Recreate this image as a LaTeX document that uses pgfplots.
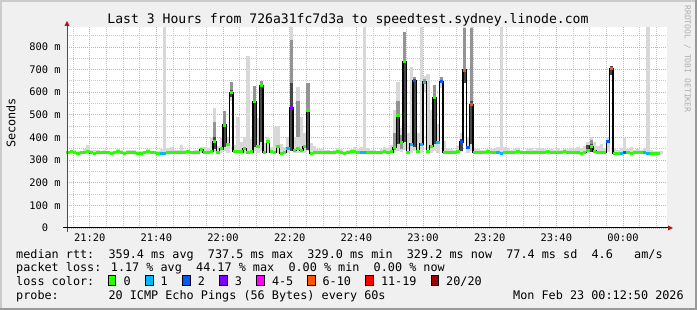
\documentclass[border=0pt]{standalone}
\usepackage{fontspec}
\setmainfont{DejaVu Sans Mono}
\usepackage{pgfplots}
\usepackage{pgfplotstable}
\pgfplotsset{compat=1.18}
\definecolor{c0}{HTML}{26FF00}
\definecolor{c1}{HTML}{00B8FF}
\definecolor{c2}{HTML}{0059FF}
\definecolor{c3}{HTML}{7E00FF}
\definecolor{c4}{HTML}{FF00FF}
\definecolor{c5}{HTML}{FF5500}
\definecolor{c6}{HTML}{FF0000}
\definecolor{c7}{HTML}{A10000}
\definecolor{smokeL}{HTML}{D8D8D8}
\definecolor{smokeM}{HTML}{949494}
\definecolor{smokeD}{HTML}{474747}
\definecolor{bgc}{HTML}{F0F0F0}
\definecolor{shadeA}{HTML}{CBCBCB}
\definecolor{shadeB}{HTML}{999999}
\definecolor{mgrid}{HTML}{F0A0A0}
\definecolor{ngrid}{HTML}{C8C8C8}
\definecolor{arrowc}{HTML}{B01818}
\definecolor{wm}{HTML}{B0B0B0}

\pgfplotstableread{
m med c lo hi
13 334 0 328 342
14 336 0 330 346
15 333 0 328 343
16 331 0 327 340
17 334 0 329 342
18 333 0 328 348
19 336 0 330 367
20 332 0 327 346
21 331 0 327 345
22 334 0 329 343
23 332 0 327 340
24 335 0 330 343
25 333 0 328 341
26 331 0 327 339
27 334 0 329 342
28 336 0 330 350
29 333 0 328 346
30 330 0 326 340
31 333 0 328 345
32 335 0 330 343
33 334 0 329 346
34 331 0 327 340
35 330 0 326 338
36 334 0 329 342
37 337 0 331 347
38 333 0 328 341
39 332 0 327 340
40 331 0 327 339
41 331 1 327 350
42 331 1 327 890
43 333 0 328 352
44 334 0 329 356
45 334 0 329 345
46 335 0 330 345
47 333 0 328 366
48 334 0 329 346
49 336 0 330 344
50 333 0 328 341
51 334 0 329 345
52 335 0 330 346
53 345 0 333 356
54 334 0 329 358
55 334 0 329 352
56 338 0 331 404
57 381 0 335 529
58 333 0 328 362
59 349 0 332 404
60 455 0 338 517
61 367 0 333 400
62 598 0 560 647
63 337 0 330 365
64 338 0 330 492
65 336 0 330 380
66 349 0 332 400
67 333 0 328 760
68 336 0 330 395
69 558 0 340 628
70 362 0 333 485
71 628 0 340 650
72 335 0 329 375
73 380 0 332 400
74 336 0 330 360
75 333 0 328 448
76 362 0 333 452
77 331 0 327 370
78 333 0 328 360
79 352 1 333 400
80 533 3 340 890
81 343 0 330 400
82 352 0 332 622
83 343 0 330 492
84 358 0 333 420
85 521 0 340 642
86 331 0 327 375
87 332 0 327 362
88 334 0 329 350
89 334 0 329 348
90 335 0 330 345
91 333 0 328 346
92 332 0 327 340
93 334 0 329 345
94 336 0 330 352
95 333 0 328 347
96 331 0 327 341
97 334 0 329 344
98 337 0 331 350
99 336 0 330 356
100 333 0 328 347
101 335 1 329 360
102 333 1 328 890
103 334 0 329 352
104 332 0 327 343
105 334 0 329 345
106 333 0 328 341
107 335 0 330 350
108 337 0 331 356
109 334 0 329 352
110 336 0 330 365
111 355 0 333 520
112 496 0 338 647
113 379 0 334 440
114 735 0 345 868
115 335 0 330 420
116 371 1 333 713
117 650 2 340 669
118 336 0 330 420
119 371 1 333 890
120 644 1 600 670
121 336 0 330 681
122 362 0 333 520
123 575 0 340 632
124 377 1 333 460
125 645 2 620 666
126 335 0 330 385
127 333 0 328 352
128 334 0 329 348
129 335 0 330 346
130 336 0 330 362
131 380 2 334 420
132 698 5 640 890
133 357 2 332 400
134 544 5 340 890
135 333 0 328 352
136 335 0 330 348
137 334 0 329 345
138 333 0 328 343
139 336 0 330 350
140 334 0 329 348
141 333 0 328 352
142 332 1 327 356
143 331 1 327 890
144 334 0 329 356
145 335 0 330 352
146 333 0 328 346
147 334 0 329 350
148 336 0 330 352
149 333 0 328 346
150 332 0 327 342
151 334 0 329 348
152 335 0 330 352
153 333 0 328 346
154 332 0 327 354
155 333 0 328 352
156 335 0 330 350
157 336 0 330 345
158 334 0 329 348
159 333 0 328 346
160 335 0 330 352
161 334 0 329 346
162 336 0 330 350
163 335 0 330 348
164 333 0 328 352
165 334 0 329 350
166 333 0 328 357
167 331 0 327 355
168 334 0 329 362
169 342 0 332 380
170 358 0 334 400
171 340 0 331 378
172 335 0 330 362
173 333 0 328 371
174 334 0 329 352
175 381 2 334 400
176 703 5 676 716
177 331 0 327 352
178 330 0 326 346
179 331 1 327 352
180 333 2 328 396
181 332 0 327 350
182 331 0 327 359
183 332 0 327 346
184 333 0 328 350
185 334 0 329 346
186 332 1 327 352
187 331 1 327 890
188 330 0 326 346
189 330 0 326 342
190 329 0 326 340
191 329 0 326 340
}\med

\pgfplotstableread{
m lo hi
57 381 470
60 455 517
62 598 647
69 558 628
71 628 650
80 640 830
82 400 560
85 521 642
111 345 420
112 496 560
113 350 410
114 735 868
117 650 669
120 644 660
123 575 632
125 645 666
132 698 885
134 560 885
170 340 390
}\smokemid

\pgfplotstableread{
m lo hi
57 350 400
60 360 455
62 580 610
69 360 558
71 380 628
80 340 640
85 345 521
112 370 496
114 380 735
117 360 650
123 370 575
131 340 395
132 640 698
134 370 560
169 335 368
170 336 372
176 676 716
}\smokedark

\begin{document}
\begin{tikzpicture}[x=1pt,y=1pt]
\useasboundingbox (0,0) rectangle (697,310);
\fill[bgc] (0,0) rectangle (697,310);
\fill[shadeA] (0,0) rectangle (2,310);
\fill[shadeA] (0,308) rectangle (697,310);
\fill[shadeB] (695,0) rectangle (697,310);
\fill[shadeB] (0,0) rectangle (697,2);
\fill[white] (67,82) rectangle (667,283);
\begin{axis}[
  at={(67pt,82pt)}, anchor=south west, scale only axis,
  width=600pt, height=201pt,
  xmin=13.19, xmax=193.19, ymin=0, ymax=888,
  axis line style={draw=none},
  tick style={draw=none},
  xtick={20,40,...,180},
  xticklabels={21:20,21:40,22:00,22:20,22:40,23:00,23:20,23:40,00:00},
  minor xtick={15,25,30,35,45,50,55,65,70,75,85,90,95,105,110,115,125,130,135,145,150,155,165,170,175,185,190},
  ytick={0,100,...,800},
  yticklabels={0,100 m,200 m,300 m,400 m,500 m,600 m,700 m,800 m},
  minor ytick={50,150,...,850},
  grid=both,
  major grid style={mgrid, line width=0.8pt, dash pattern=on 1pt off 1pt},
  minor grid style={ngrid, line width=0.8pt, dash pattern=on 1pt off 1pt},
  xticklabel style={font=\fontsize{10.4}{12}\selectfont, anchor=center, yshift=-9.7pt},
  yticklabel style={font=\fontsize{10.4}{12}\selectfont, anchor=center, xshift=-22pt},
]
% light smoke
\addplot[draw=none, mark=none, forget plot,
  error bars/.cd, y dir=both, y explicit, error mark=none,
  error bar style={line width=3.34pt, smokeL}]
  table[x expr=\thisrow{m}+0.5, y expr=(\thisrow{lo}+\thisrow{hi})/2, y error expr=(\thisrow{hi}-\thisrow{lo})/2] \med;
% medium smoke
\addplot[draw=none, mark=none, forget plot,
  error bars/.cd, y dir=both, y explicit, error mark=none,
  error bar style={line width=3.34pt, smokeM}]
  table[x expr=\thisrow{m}+0.5, y expr=(\thisrow{lo}+\thisrow{hi})/2, y error expr=(\thisrow{hi}-\thisrow{lo})/2] \smokemid;
% dark smoke
\addplot[draw=none, mark=none, forget plot,
  error bars/.cd, y dir=both, y explicit, error mark=none,
  error bar style={line width=3.34pt, smokeD}]
  table[x expr=\thisrow{m}+0.5, y expr=(\thisrow{lo}+\thisrow{hi})/2, y error expr=(\thisrow{hi}-\thisrow{lo})/2] \smokedark;
% median line
\addplot[const plot, black, line width=1.5pt, mark=none] table[x=m, y=med] \med;
% loss colour segments
\addplot[scatter, only marks, scatter src=explicit symbolic, mark=-, mark size=1.67pt,
  skip coords between index={178}{179},
  scatter/classes={
    0={mark=-, draw=c0, line width=3pt},
    1={mark=-, draw=c1, line width=3pt},
    2={mark=-, draw=c2, line width=3pt},
    3={mark=-, draw=c3, line width=3pt},
    4={mark=-, draw=c4, line width=3pt},
    5={mark=-, draw=c5, line width=3pt},
    6={mark=-, draw=c6, line width=3pt},
    7={mark=-, draw=c7, line width=3pt}}]
  table[x expr=\thisrow{m}+0.5, y=med, meta=c] \med;
\end{axis}
% axes
\draw[black!70, line width=1pt] (67,78) -- (67,285);
\fill[arrowc] (64.5,284) -- (67,289) -- (69.5,284) -- cycle;
\draw[black, line width=1pt] (63,82) -- (669,82);
\fill[arrowc] (668,79.5) -- (673,82) -- (668,84.5) -- cycle;
% title and labels
\node[inner sep=0, anchor=base] at (348,286) {\fontsize{13.1}{15}\selectfont Last 3 Hours from 726a31fc7d3a to speedtest.sydney.linode.com};
\node[inner sep=0, rotate=90] at (11,187) {\fontsize{11.8}{14}\selectfont Seconds};
\node[inner sep=0, rotate=-90, text=wm] at (687.5,251) {\fontsize{8.1}{10}\selectfont RRDTOOL / TOBI OETIKER};
% legend lines
\begin{scope}[every node/.style={inner sep=0, anchor=base west, font=\fontsize{11.8}{14}\selectfont}]
\node at (16,51.7) {median rtt:~~359.4 ms avg~~737.5 ms max~~329.0 ms min~~329.2 ms now~~77.4 ms sd~~4.6~~~am/s};
\node at (16,38) {packet loss: 1.17 \% avg~~44.17 \% max~~0.00 \% min~~0.00 \% now};
\node at (16,24.3) {loss color:};
\node at (16,10.6) {probe:~~~~~~~20 ICMP Echo Pings (56 Bytes) every 60s};
\node at (513,10.6) {Mon Feb 23 00:12:50 2026};
\filldraw[fill=c0, draw=black, line width=0.8pt] (108.3,24.5) rectangle ++(7.5,10); \node at (123.3,24.3) {0};
\filldraw[fill=c1, draw=black, line width=0.8pt] (145.5,24.5) rectangle ++(7.5,10); \node at (160.5,24.3) {1};
\filldraw[fill=c2, draw=black, line width=0.8pt] (182.6,24.5) rectangle ++(7.5,10); \node at (197.6,24.3) {2};
\filldraw[fill=c3, draw=black, line width=0.8pt] (219.7,24.5) rectangle ++(7.5,10); \node at (234.7,24.3) {3};
\filldraw[fill=c4, draw=black, line width=0.8pt] (256.8,24.5) rectangle ++(7.5,10); \node at (271.8,24.3) {4-5};
\filldraw[fill=c5, draw=black, line width=0.8pt] (307.4,24.5) rectangle ++(7.5,10); \node at (322.4,24.3) {6-10};
\filldraw[fill=c6, draw=black, line width=0.8pt] (365.8,24.5) rectangle ++(7.5,10); \node at (380.8,24.3) {11-19};
\filldraw[fill=c7, draw=black, line width=0.8pt] (431.0,24.5) rectangle ++(7.5,10); \node at (446.0,24.3) {20/20};
\end{scope}
\end{tikzpicture}
\end{document}
